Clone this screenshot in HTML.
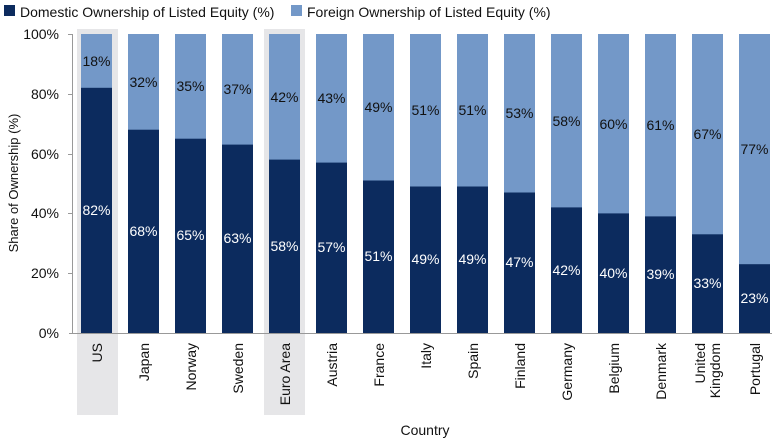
<!DOCTYPE html>
<html><head><meta charset="utf-8"><style>
body{margin:0;background:#fff}
svg{display:block;font-family:"Liberation Sans","DejaVu Sans",sans-serif}
</style></head><body>
<svg width="780" height="440" viewBox="0 0 780 440">
<rect x="4" y="5" width="11" height="11" fill="#0c2b5e"/>
<text x="20" y="17" font-size="14" fill="#111">Domestic Ownership of Listed Equity (%)</text>
<rect x="291" y="5" width="11" height="11" fill="#7398c8"/>
<text x="307" y="17" font-size="14" fill="#111">Foreign Ownership of Listed Equity (%)</text>
<rect x="77" y="29" width="41" height="386" fill="#e6e6e8"/>
<rect x="264" y="29" width="41" height="386" fill="#e6e6e8"/>
<g fill="#7398c8">
<rect x="81" y="34" width="31" height="299"/><rect x="128" y="34" width="31" height="299"/><rect x="175" y="34" width="31" height="299"/><rect x="222" y="34" width="31" height="299"/><rect x="269" y="34" width="31" height="299"/><rect x="316" y="34" width="31" height="299"/><rect x="363" y="34" width="31" height="299"/><rect x="410" y="34" width="31" height="299"/><rect x="457" y="34" width="31" height="299"/><rect x="504" y="34" width="31" height="299"/><rect x="551" y="34" width="31" height="299"/><rect x="598" y="34" width="31" height="299"/><rect x="645" y="34" width="31" height="299"/><rect x="692" y="34" width="31" height="299"/><rect x="739" y="34" width="31" height="299"/>
</g>
<g fill="#0c2b5e">
<rect x="81" y="87.8" width="31" height="245.2"/><rect x="128" y="129.7" width="31" height="203.3"/><rect x="175" y="138.7" width="31" height="194.3"/><rect x="222" y="144.6" width="31" height="188.4"/><rect x="269" y="159.6" width="31" height="173.4"/><rect x="316" y="162.6" width="31" height="170.4"/><rect x="363" y="180.5" width="31" height="152.5"/><rect x="410" y="186.5" width="31" height="146.5"/><rect x="457" y="186.5" width="31" height="146.5"/><rect x="504" y="192.5" width="31" height="140.5"/><rect x="551" y="207.4" width="31" height="125.6"/><rect x="598" y="213.4" width="31" height="119.6"/><rect x="645" y="216.4" width="31" height="116.6"/><rect x="692" y="234.3" width="31" height="98.7"/><rect x="739" y="264.2" width="31" height="68.8"/>
</g>
<g font-size="14" text-anchor="middle" fill="#fff">
<text x="96.5" y="215">82%</text><text x="143.5" y="236">68%</text><text x="190.5" y="240">65%</text><text x="237.5" y="243">63%</text><text x="284.5" y="251">58%</text><text x="331.5" y="252">57%</text><text x="378.5" y="261">51%</text><text x="425.5" y="264">49%</text><text x="472.5" y="264">49%</text><text x="519.5" y="267">47%</text><text x="566.5" y="275">42%</text><text x="613.5" y="278">40%</text><text x="660.5" y="279">39%</text><text x="707.5" y="288">33%</text><text x="754.5" y="303">23%</text>
</g>
<g font-size="14" text-anchor="middle" fill="#111">
<text x="96.5" y="66">18%</text><text x="143.5" y="87">32%</text><text x="190.5" y="91">35%</text><text x="237.5" y="94">37%</text><text x="284.5" y="102">42%</text><text x="331.5" y="103">43%</text><text x="378.5" y="112">49%</text><text x="425.5" y="115">51%</text><text x="472.5" y="115">51%</text><text x="519.5" y="118">53%</text><text x="566.5" y="126">58%</text><text x="613.5" y="129">60%</text><text x="660.5" y="130">61%</text><text x="707.5" y="139">67%</text><text x="754.5" y="154">77%</text>
</g>
<g stroke="#999" stroke-width="1">
<line x1="72.5" y1="34" x2="72.5" y2="333"/>
<line x1="69" y1="333.5" x2="772" y2="333.5"/>
<line x1="68" y1="34.5" x2="72" y2="34.5"/><line x1="68" y1="94.5" x2="72" y2="94.5"/><line x1="68" y1="154.5" x2="72" y2="154.5"/><line x1="68" y1="213.5" x2="72" y2="213.5"/><line x1="68" y1="273.5" x2="72" y2="273.5"/>
</g>
<g font-size="14" text-anchor="end" fill="#111">
<text x="59" y="39">100%</text><text x="59" y="99">80%</text><text x="59" y="159">60%</text><text x="59" y="218">40%</text><text x="59" y="278">20%</text><text x="59" y="338">0%</text>
</g>
<text transform="translate(18,183) rotate(-90)" font-size="13" text-anchor="middle" fill="#111">Share of Ownership (%)</text>
<text x="425" y="435" font-size="14" text-anchor="middle" fill="#111">Country</text>
<g font-size="14" text-anchor="end" fill="#111">
<text transform="translate(102,343) rotate(-90)">US</text>
<text transform="translate(149,343) rotate(-90)">Japan</text>
<text transform="translate(196,343) rotate(-90)">Norway</text>
<text transform="translate(243,343) rotate(-90)">Sweden</text>
<text transform="translate(290,343) rotate(-90)">Euro Area</text>
<text transform="translate(337,343) rotate(-90)">Austria</text>
<text transform="translate(384,343) rotate(-90)">France</text>
<text transform="translate(431,343) rotate(-90)">Italy</text>
<text transform="translate(478,343) rotate(-90)">Spain</text>
<text transform="translate(525,343) rotate(-90)">Finland</text>
<text transform="translate(572,343) rotate(-90)">Germany</text>
<text transform="translate(619,343) rotate(-90)">Belgium</text>
<text transform="translate(666,343) rotate(-90)">Denmark</text>
<text transform="translate(705,343) rotate(-90)">United</text>
<text transform="translate(720,343) rotate(-90)">Kingdom</text>
<text transform="translate(760,343) rotate(-90)">Portugal</text>
</g>
</svg>
</body></html>
